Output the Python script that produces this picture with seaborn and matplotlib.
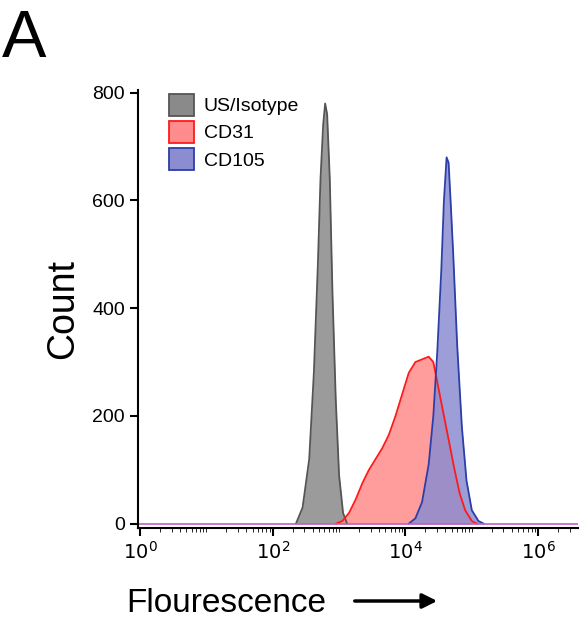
import numpy as np
import pandas as pd
import seaborn as sns
import matplotlib.pyplot as plt
from matplotlib.patches import Patch
from matplotlib.ticker import FixedLocator, NullFormatter

# histogram outlines (log10 fluorescence, count)
iso_log = [2.35, 2.45, 2.55, 2.62, 2.68, 2.72, 2.76, 2.79, 2.82, 2.86, 2.90, 2.95, 3.00, 3.06, 3.12]
iso_cnt = [0, 30, 120, 280, 480, 640, 740, 780, 760, 640, 430, 230, 90, 20, 0]

cd31_log = [2.95, 3.05, 3.15, 3.25, 3.35, 3.45, 3.55, 3.65, 3.75, 3.85, 3.95, 4.05, 4.15, 4.25, 4.35, 4.42, 4.50, 4.58, 4.66, 4.74, 4.82, 4.90, 5.00, 5.08]
cd31_cnt = [0, 5, 20, 45, 75, 100, 120, 140, 165, 200, 240, 280, 300, 305, 310, 300, 250, 200, 150, 100, 55, 25, 5, 0]

cd105_log = [4.05, 4.15, 4.25, 4.35, 4.42, 4.48, 4.54, 4.58, 4.62, 4.65, 4.68, 4.72, 4.78, 4.85, 4.92, 5.00, 5.10, 5.18]
cd105_cnt = [0, 10, 40, 110, 200, 320, 470, 600, 680, 670, 600, 500, 330, 180, 80, 25, 5, 0]

labels = ["US/Isotype", "CD31", "CD105"]
fills = ["#8a8a8a", "#ff8c8c", "#8c8cd0"]
edges = ["#555555", "#ff1a1a", "#2a3fa8"]

sns.set_style("ticks", {"text.color": "black", "xtick.color": "black", "ytick.color": "black",
                        "axes.labelcolor": "black", "axes.edgecolor": "black"})
plt.rcParams['font.family'] = ['Liberation Sans', 'DejaVu Sans']

fig = plt.figure(figsize=(5.81, 6.24), dpi=100)
ax = fig.add_axes([138/581, 1-528/624, 440/581, 438/624])

for lg, cn, fc, ec in zip([iso_log, cd31_log, cd105_log], [iso_cnt, cd31_cnt, cd105_cnt], fills, edges):
    x = 10 ** np.array(lg)
    df = pd.DataFrame({"x": x, "y": cn})
    ax.fill_between(df.x, df.y, color=fc, alpha=0.85, lw=0)
    sns.lineplot(data=df, x="x", y="y", color=ec, lw=1.3, ax=ax)

# flat baseline line
ax.plot([10**-0.03, 10**6.6], [0, 0], color="#c060c0", lw=1.2)

ax.set_xscale("log")
ax.set_xlim(10**-0.03, 10**6.6)
ax.set_ylim(-8, 805)
ax.set_yticks([0, 200, 400, 600, 800])
ax.set_xticks([1, 1e2, 1e4, 1e6])
ax.set_xticklabels(["$10^0$", "$10^2$", "$10^4$", "$10^6$"])
minor = [m * 10**d for d in range(0, 7) for m in range(2, 10) if m * 10**d < 10**6.6]
minor += [10**d for d in (1, 3, 5)]
ax.xaxis.set_minor_locator(FixedLocator(minor))
ax.xaxis.set_minor_formatter(NullFormatter())
ax.tick_params(labelsize=14, width=1.5, length=6)
ax.tick_params(which="minor", length=3)
for s in ("left", "bottom"):
    ax.spines[s].set_linewidth(1.5)
sns.despine(ax=ax)

ax.set_ylabel("Count", fontsize=27, labelpad=8)
ax.set_xlabel("")
fig.text(126/581, 1-603/624, "Flourescence", fontsize=24, va="center")
ax.annotate("", xy=(440/581, 1-601/624), xytext=(352/581, 1-601/624), xycoords="figure fraction",
            arrowprops=dict(arrowstyle="-|>", color="black", lw=2.5, mutation_scale=22))
fig.text(2/581, 1-40/624, "A", fontsize=48, va="center")

handles = [Patch(facecolor=f, edgecolor=e, lw=1.3) for f, e in zip(fills, edges)]
ax.legend(handles, labels, loc="upper left", bbox_to_anchor=(0.03, 1.03), frameon=False,
          fontsize=14, handlelength=1.3, handleheight=1.3, labelspacing=0.3, handletextpad=0.5)

fig.savefig("out.png", dpi=100)
